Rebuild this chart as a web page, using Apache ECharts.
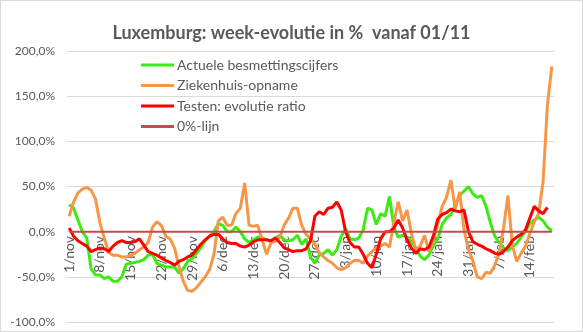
<!DOCTYPE html>
<html>
<head>
<meta charset="utf-8">
<script src="https://cdn.jsdelivr.net/npm/echarts@6/dist/echarts.min.js"></script>
<style>
html,body{margin:0;padding:0;background:#fff;}
#c{width:581px;height:330px;border:1px solid #D9D9D9;}
</style>
</head>
<body>
<div id="c"></div>
<script>
// Month names and lengths used to build the daily category labels (1/nov .. 19/feb)
var monthNames = ['nov','dec','jan','feb'];
var monthDays = [30,31,31,19];
var categories = [];
for (var m = 0; m < monthNames.length; m++) {
  for (var d = 1; d <= monthDays[m]; d++) categories.push(d + '/' + monthNames[m]);
}

var seriesNames = ['Actuele besmettingscijfers','Ziekenhuis-opname','Testen: evolutie ratio','0%-lijn'];

// week-evolution in %
var besmettingen = [30,26,13,0,-7,-41,-48,-48,-52,-50,-55,-55,-50,-36,-35,-34,-33,-31,-26,-25,
  -35,-37,-39,-39,-39,-46,-41,-33,-30,-24,-18,-10,-5,0,9,7,0,0,5,0,
  -8,-12,-9,-6,-7,-9,-11,-7,-4,-9,-10,-9,-4,-14,-8,-28,-35,-26,-24,-20,
  -26,-20,-5,3,-8,-9,-7,2,26,24,8,20,17,39,5,-6,-4,-6,-11,-18,
  -27,-31,-26,-15,-8,8,15,19,30,40,45,50,42,38,40,28,10,-5,-12,-18,
  -21,-17,-13,-6,0,9,13,16,12,5,1];

var ziekenhuis = [17,33,43,47,49,46,36,10,-7,-23,-26,-26,-28,-28,-26,-24,-20,-17,-12,5,
  11,7,-5,-8,-18,-38,-55,-65,-66,-62,-56,-50,-42,-25,12,16,7,7,20,26,
  54,7,6,7,-10,-25,-12,-11,-6,7,15,26,26,7,-3,-8,-14,-23,-28,-32,
  -35,-40,-42,-40,-35,-32,-32,-35,-27,-22,-18,-16,-13,-17,10,33,12,24,-2,-20,
  -16,-4,-22,-9,8,28,38,57,25,44,2,-20,-32,-50,-52,-45,-46,-37,-24,4,
  40,-15,-33,-24,-16,-2,11,20,55,140,183];

var testen = [4,-5,-10,-13,-16,-22,-20,-18,-19,-22,-16,-12,-10,-12,-12,-11,-8,-15,-22,-24,
  -26,-29,-32,-34,-37,-33,-31,-28,-26,-20,-14,-9,-5,-3,-3,-8,-12,-13,-13,-16,
  -17,-15,-11,-9,-9,-9,-10,-7,-12,-18,-20,-22,-21,-21,-19,-10,17,22,19,26,
  27,33,24,0,-12,-17,-17,-25,-35,-40,-25,-8,0,0,4,13,4,-9,-18,-24,
  -19,-20,-17,-5,14,19,21,25,23,22,24,0,-11,-14,-16,-19,-21,-24,-25,-22,
  -17,-10,-6,-3,2,15,28,23,20,27,null];

var nulLijn = categories.map(function(){return 0;});

var yMin = -100, yMax = 200, yStep = 50;

var gridTop = 50, gridBottom = 9, H = 332;
var plotH = H - gridTop - gridBottom;
var zeroOffset = -plotH * (0 - yMin) / (yMax - yMin);

var chart = echarts.init(document.getElementById('c'));
var font = 'Lato, "Open Sans", sans-serif';
function line(name, data, color, width) {
  return {name:name, type:'line', data:data, symbol:'none', showSymbol:false,
    lineStyle:{color:color, width:width}, itemStyle:{color:color}, animation:false};
}
chart.setOption({
  animation:false,
  title:{text:'Luxemburg: week-evolutie in %  vanaf 01/11', left:'center', top:18,
    textStyle:{fontFamily:font, fontSize:18, fontWeight:'bold', color:'#595959'}},
  grid:{left:66, right:28, top:gridTop, bottom:gridBottom, containLabel:false},
  legend:{orient:'vertical', left:140, top:57, padding:0, itemWidth:33, itemHeight:3, itemGap:6.5,
    icon:'rect', data:seriesNames,
    textStyle:{fontFamily:font, fontSize:14, lineHeight:14, color:'#595959', padding:[0,0,0,-2]}},
  xAxis:{type:'category', data:categories, boundaryGap:true, position:'bottom', offset:zeroOffset,
    axisLine:{show:false, onZero:false}, axisTick:{show:false},
    axisLabel:{interval:6, rotate:90, margin:5, color:'#595959', fontFamily:font, fontSize:14},
    splitLine:{show:false}},
  yAxis:{type:'value', min:yMin, max:yMax, interval:yStep,
    axisLine:{show:false}, axisTick:{show:false},
    axisLabel:{margin:12, color:'#595959', fontFamily:font, fontSize:12,
      formatter:function(v){return v.toFixed(1).replace('.',',')+'%';}},
    splitLine:{lineStyle:{color:'#D9D9D9', width:1}}},
  series:[
    line(seriesNames[0], besmettingen, '#3BEB12', 3),
    line(seriesNames[1], ziekenhuis, '#F79646', 3),
    line(seriesNames[2], testen, '#FF0000', 3),
    line(seriesNames[3], nulLijn, '#C0504D', 2)
  ]
});
</script>
</body>
</html>
